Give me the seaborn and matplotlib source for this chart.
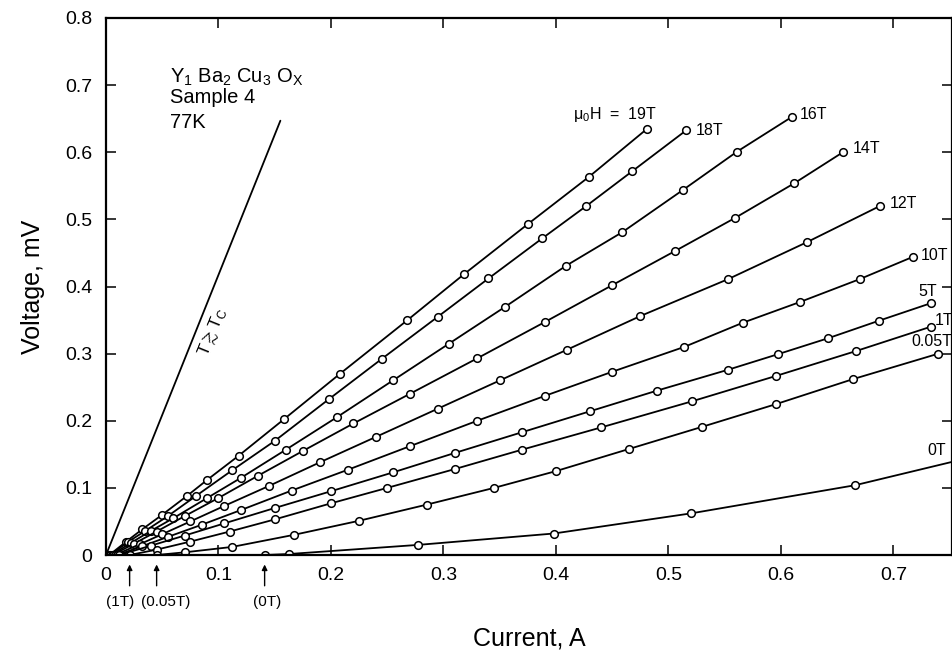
import matplotlib
matplotlib.use("Agg")
import matplotlib.pyplot as plt
import seaborn as sns
import pandas as pd

# ---- data (current in A, voltage in mV) ----
fields = ["19T", "18T", "16T", "14T", "12T", "10T", "5T", "1T", "0.05T", "0T"]

x19 = [0.003, 0.018, 0.032, 0.05, 0.072, 0.09, 0.118, 0.158, 0.208, 0.268, 0.318, 0.375, 0.429, 0.481]
y19 = [0.0, 0.02, 0.038, 0.06, 0.088, 0.112, 0.148, 0.202, 0.27, 0.35, 0.418, 0.493, 0.563, 0.635]

x18 = [0.004, 0.02, 0.035, 0.055, 0.08, 0.112, 0.15, 0.198, 0.245, 0.295, 0.34, 0.388, 0.427, 0.468, 0.516]
y18 = [0.0, 0.02, 0.036, 0.058, 0.088, 0.126, 0.17, 0.232, 0.292, 0.355, 0.412, 0.472, 0.52, 0.572, 0.633]

x16 = [0.005, 0.022, 0.04, 0.06, 0.09, 0.12, 0.16, 0.205, 0.255, 0.305, 0.355, 0.409, 0.459, 0.513, 0.561, 0.61]
y16 = [0.0, 0.018, 0.036, 0.055, 0.085, 0.115, 0.157, 0.205, 0.26, 0.315, 0.37, 0.431, 0.481, 0.544, 0.601, 0.653]

x14 = [0.006, 0.025, 0.045, 0.07, 0.1, 0.135, 0.175, 0.22, 0.27, 0.33, 0.39, 0.45, 0.506, 0.559, 0.612, 0.655]
y14 = [0.0, 0.017, 0.035, 0.058, 0.085, 0.118, 0.155, 0.196, 0.24, 0.293, 0.347, 0.402, 0.453, 0.502, 0.554, 0.60]

x12 = [0.008, 0.03, 0.05, 0.075, 0.105, 0.145, 0.19, 0.24, 0.295, 0.35, 0.41, 0.475, 0.553, 0.623, 0.688]
y12 = [0.0, 0.016, 0.031, 0.05, 0.073, 0.103, 0.138, 0.176, 0.218, 0.26, 0.306, 0.356, 0.411, 0.466, 0.52]

x10 = [0.01, 0.032, 0.055, 0.085, 0.12, 0.165, 0.215, 0.27, 0.33, 0.39, 0.45, 0.514, 0.566, 0.617, 0.67, 0.717]
y10 = [0.0, 0.013, 0.027, 0.045, 0.067, 0.096, 0.127, 0.162, 0.2, 0.237, 0.273, 0.31, 0.346, 0.377, 0.411, 0.444]

x5 = [0.012, 0.04, 0.07, 0.105, 0.15, 0.2, 0.255, 0.31, 0.37, 0.43, 0.49, 0.553, 0.597, 0.642, 0.687, 0.733]
y5 = [0.0, 0.014, 0.029, 0.047, 0.07, 0.095, 0.123, 0.152, 0.183, 0.214, 0.245, 0.276, 0.299, 0.323, 0.349, 0.375]

x1 = [0.021, 0.045, 0.075, 0.11, 0.15, 0.2, 0.25, 0.31, 0.37, 0.44, 0.521, 0.596, 0.667, 0.733]
y1 = [0.0, 0.008, 0.02, 0.035, 0.053, 0.077, 0.1, 0.128, 0.157, 0.19, 0.229, 0.267, 0.304, 0.34]

x005 = [0.045, 0.07, 0.112, 0.167, 0.225, 0.285, 0.345, 0.40, 0.465, 0.53, 0.596, 0.664, 0.74]
y005 = [0.0, 0.004, 0.012, 0.03, 0.051, 0.075, 0.1, 0.125, 0.158, 0.191, 0.225, 0.262, 0.30]

x0 = [0.141, 0.163, 0.277, 0.398, 0.52, 0.666, 0.78]
y0 = [0.0, 0.0015, 0.015, 0.032, 0.062, 0.104, 0.15]

xs = [x19, x18, x16, x14, x12, x10, x5, x1, x005, x0]
ys = [y19, y18, y16, y14, y12, y10, y5, y1, y005, y0]

# normal-state line (T >~ Tc)
xtc = [0.0, 0.155]
ytc = [0.0, 0.647]

# onset currents marked below the axis
onset_x = [0.021, 0.045, 0.141]
onset_lbl = ["(1T)", "(0.05T)", "(0T)"]
onset_lbl_x = [0.013, 0.053, 0.143]

# curve labels
lbl_text = ["μ$_0$H  =  19T", "18T", "16T", "14T", "12T", "10T", "5T", "1T", "0.05T", "0T"]
lbl_x = [0.490, 0.524, 0.617, 0.664, 0.697, 0.724, 0.722, 0.737, 0.716, 0.730]
lbl_y = [0.656, 0.633, 0.656, 0.605, 0.524, 0.446, 0.392, 0.350, 0.318, 0.156]
lbl_ha = ["right", "left", "left", "left", "left", "left", "left", "left", "left", "left"]

xticks = [0, 0.1, 0.2, 0.3, 0.4, 0.5, 0.6, 0.7]
xticklabels = ["0", "0.1", "0.2", "0.3", "0.4", "0.5", "0.6", "0.7"]
yticks = [0, 0.1, 0.2, 0.3, 0.4, 0.5, 0.6, 0.7, 0.8]
yticklabels = ["0", "0.1", "0.2", "0.3", "0.4", "0.5", "0.6", "0.7", "0.8"]

# ---- style ----
sns.set_style("ticks")
plt.rcParams["font.family"] = ["Liberation Sans", "DejaVu Sans"]
plt.rcParams["mathtext.default"] = "regular"
for k in ["text.color", "axes.labelcolor", "xtick.color", "ytick.color", "axes.edgecolor"]:
    plt.rcParams[k] = "black"

fig = plt.figure(figsize=(9.53, 6.51), dpi=100)
ax = fig.add_axes([106 / 953, 1 - 555 / 651, (952 - 106) / 953, (555 - 18) / 651])

for f, x, y in zip(fields, xs, ys):
    df = pd.DataFrame({"I": x, "V": y})
    sns.lineplot(data=df, x="I", y="V", ax=ax, color="black", lw=1.3,
                 marker="o", markersize=5.5, markerfacecolor="white",
                 markeredgecolor="black", markeredgewidth=1.1, sort=True,
                 estimator=None, legend=False)

sns.lineplot(x=xtc, y=ytc, ax=ax, color="black", lw=1.3, estimator=None, legend=False)

ax.set_xlim(0, 0.752)
ax.set_ylim(0, 0.8)
ax.set_xticks(xticks)
ax.set_xticklabels(xticklabels)
ax.set_yticks(yticks)
ax.set_yticklabels(yticklabels)
ax.tick_params(direction="in", length=7, width=1.1, top=True, right=True,
               labelsize=14, colors="black")
ax.tick_params(axis="x", pad=9)
ax.tick_params(axis="y", pad=10)
for s in ax.spines.values():
    s.set_linewidth(1.6)
    s.set_color("black")

ax.set_xlabel("Current, A", fontsize=18, labelpad=30, color="black")
ax.set_ylabel("Voltage, mV", fontsize=18, labelpad=14, color="black")

for t, x, y, ha in zip(lbl_text, lbl_x, lbl_y, lbl_ha):
    ax.text(x, y, t, fontsize=11.5, ha=ha, va="center", color="black")

ax.text(0.057, 0.712, "Y$_1$ Ba$_2$ Cu$_3$ O$_X$", fontsize=14.5, ha="left", va="center")
ax.text(0.057, 0.682, "Sample 4", fontsize=14.5, ha="left", va="center")
ax.text(0.057, 0.644, "77K", fontsize=14.5, ha="left", va="center")

ax.text(0.095, 0.332, "T$\\gtrsim$T$_C$", fontsize=12.5, rotation=68,
        rotation_mode="anchor", ha="center", va="center", color="black")

for xo, lab, xl in zip(onset_x, onset_lbl, onset_lbl_x):
    ax.annotate("", xy=(xo, -0.010), xytext=(xo, -0.050),
                arrowprops=dict(arrowstyle="-|>", color="black", lw=1.0,
                                mutation_scale=8),
                annotation_clip=False)
    ax.text(xl, -0.070, lab, fontsize=11, ha="center", va="center", clip_on=False,
            color="black")

fig.savefig("out.png", dpi=100)
